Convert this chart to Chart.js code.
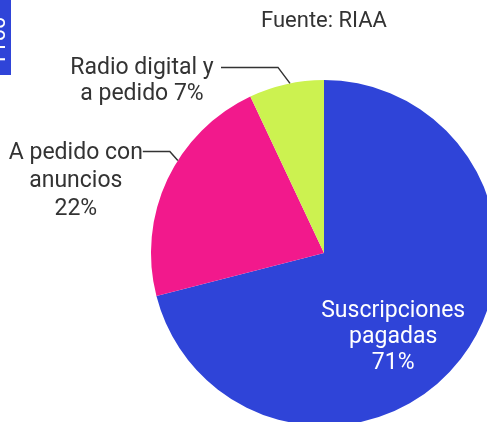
<!DOCTYPE html>
<html>
<head>
<meta charset="utf-8">
<script src="https://cdn.jsdelivr.net/npm/chart.js@4"></script>
<style>
  html, body { margin:0; padding:0; background:#fff; overflow:hidden; width:487px; height:422px; }
  #wrap { position:absolute; left:0; top:0; width:520px; height:440px; }
</style>
</head>
<body>
<div id="wrap"><canvas id="pie"></canvas></div>
<script>
const categories = ['Suscripciones pagadas', 'A pedido con anuncios', 'Radio digital y a pedido'];
const values = [71, 22, 7];
const labelLines = [
  ['Suscripciones', 'pagadas', '71%'],
  ['A pedido con', 'anuncios', '22%'],
  ['Radio digital y', 'a pedido 7%']
];
const colors = ['#2f44d8', '#f2198c', '#ccf250'];
const sourceText = 'Fuente: RIAA';

(function(){
  const FONT = '23px Roboto, "DejaVu Sans", sans-serif';
  const INK = '#333333';

  // where each label hangs off its slice (fraction of the slice's angle span)
  const place = [
    { inside:true, frac:0.55, r:0.63 },
    { frac:0.59, elbow:[-8,-9], run:27, textDx:-67, textDy:2, lh:28 },
    { frac:0.55, elbow:[-12,-16], run:57, textDx:-79, textDy:1, lh:26 }
  ];

  const labels = {
    id:'labels',
    afterDraw(chart){
      const ctx = chart.ctx;
      const arcs = chart.getDatasetMeta(0).data;
      ctx.save();
      ctx.font = FONT;
      ctx.textAlign = 'center';
      ctx.textBaseline = 'middle';

      arcs.forEach((arc, i) => {
        const p = arc.getProps(['x','y','startAngle','endAngle','outerRadius'], true);
        const cfg = place[i];
        const a = p.startAngle + (p.endAngle - p.startAngle) * cfg.frac;
        if (cfg.inside) {
          const cx = p.x + Math.cos(a) * p.outerRadius * cfg.r;
          const cy = p.y + Math.sin(a) * p.outerRadius * cfg.r;
          ctx.fillStyle = '#ffffff';
          labelLines[i].forEach((t, k) => ctx.fillText(t, cx, cy + (k - 1) * 26));
          return;
        }
        const ex = p.x + Math.cos(a) * p.outerRadius;
        const ey = p.y + Math.sin(a) * p.outerRadius;
        const bx = ex + cfg.elbow[0], by = ey + cfg.elbow[1];
        const hx = bx - cfg.run;
        ctx.strokeStyle = INK;
        ctx.lineWidth = 1.5;
        ctx.beginPath();
        ctx.moveTo(ex, ey); ctx.lineTo(bx, by); ctx.lineTo(hx, by);
        ctx.stroke();
        ctx.fillStyle = INK;
        const tx = hx + cfg.textDx;
        labelLines[i].forEach((t, k) => ctx.fillText(t, tx, by + cfg.textDy + k * cfg.lh));
      });

      // source line, centred over the pie
      const c = arcs[0];
      ctx.fillStyle = INK;
      ctx.font = '22px Roboto, "DejaVu Sans", sans-serif';
      ctx.fillText(sourceText, c.x, 21);

      // cropped side tab at top-left
      ctx.fillStyle = colors[0];
      ctx.fillRect(0, 0, 11, 75);
      ctx.save();
      ctx.translate(5, 66);
      ctx.rotate(-Math.PI / 2);
      ctx.fillStyle = '#ffffff';
      ctx.font = '22px Roboto, sans-serif';
      ctx.textAlign = 'left';
      ctx.textBaseline = 'alphabetic';
      ctx.fillText('1100', 0, 0);
      ctx.restore();
      ctx.restore();
    }
  };

  new Chart(document.getElementById('pie'), {
    type: 'pie',
    data: { labels: categories,
      datasets: [{ data: values, backgroundColor: colors, borderWidth: 0 }] },
    options: {
      responsive: true, maintainAspectRatio: false, animation: false,
      layout: { padding: { left: 151, top: 80, right: 23, bottom: 14 } },
      plugins: { legend: { display:false }, tooltip: { enabled:false } }
    },
    plugins: [labels]
  });
})();
</script>
</body>
</html>
